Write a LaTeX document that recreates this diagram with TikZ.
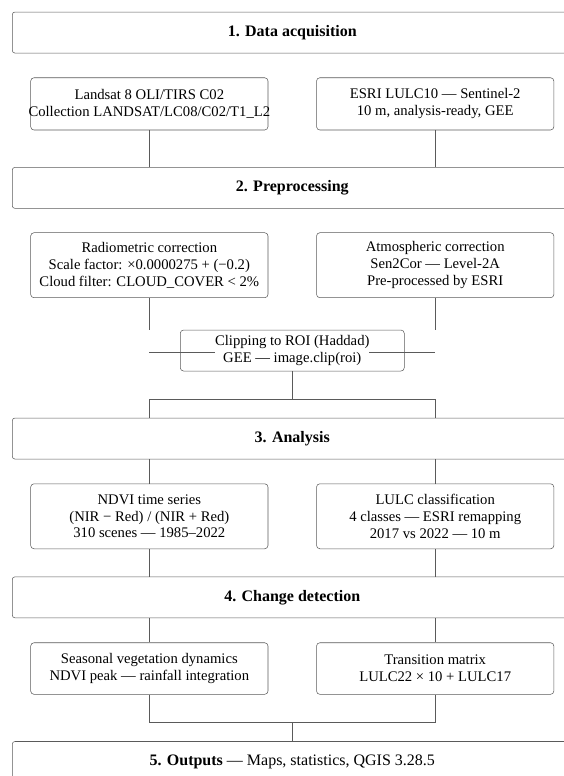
\documentclass[tikz,border=0pt]{standalone}
\usepackage{fontspec}
\setmainfont{Liberation Serif}
\usetikzlibrary{positioning}
\definecolor{edgegray}{RGB}{90,90,90}

\begin{document}
\begin{tikzpicture}[
  x=1pt, y=-1pt,
  stage/.style={draw=edgegray, rounded corners=2pt, minimum width=420pt, minimum height=30.75pt, inner sep=0pt, font=\fontsize{12}{14}\selectfont\bfseries},
  box/.style={draw=edgegray, rounded corners=2.5pt, align=center, minimum width=178pt, inner sep=0pt, font=\fontsize{11}{12.6}\selectfont},
  link/.style={draw=edgegray, line width=0.6pt}
]
  \useasboundingbox (0,0) rectangle (423,582);
  \clip (0,0) rectangle (423,582);

  % stages on the axis
  \node[stage] (acq) at (219.2,24.4) {1. Data acquisition};
  \node[stage] (prep) at (219.2,140.9) {2. Preprocessing};
  \node[stage] (analysis) at (219.2,328.9) {3. Analysis};
  \node[stage] (change) at (219.2,448) {4. Change detection};
  \node[stage] (outputs) at (219.2,571.5) {5. Outputs\textmd{ — Maps, statistics, QGIS 3.28.5}};

  % data sources
  \node[box, minimum height=39.2pt] (landsat) at (112,77.9) {Landsat 8 OLI/TIRS C02\\ \makebox[0pt]{Collection LANDSAT/LC08/C02/T1\_L2}};
  \node[box, minimum height=39.2pt] (esri) at (326.4,77.9) {ESRI LULC10 — Sentinel-2\\ 10 m, analysis-ready, GEE};
  \draw[link] (landsat.south) -- (landsat.south |- prep.north);
  \draw[link] (esri.south) -- (esri.south |- prep.north);

  % preprocessing
  \node[box, minimum height=48.75pt] (radio) at (112,198.9) {Radiometric correction\\ Scale factor: ×0.0000275 + (−0.2)\\ Cloud filter: CLOUD\_COVER < 2\%};
  \node[box, minimum height=48.75pt] (atmo) at (326.4,198.9) {Atmospheric correction\\ Sen2Cor — Level-2A\\ Pre-processed by ESRI};
  \node[box, minimum width=168pt, minimum height=30.75pt] (clip) at (219.2,262.9) {};
  \coordinate (radioend) at (112,247.5);
  \coordinate (atmoend) at (326.4,247.5);
  \coordinate (clipl) at (112,264);
  \coordinate (clipr) at (326.4,264);
  \coordinate (split) at (219.2,299.5);
  \draw[link] (radio.south) -- (radioend);
  \draw[link] (atmo.south) -- (atmoend);
  \draw[link] (clipl) -- (clipr);
  \node[fill=white, inner sep=0pt, align=center, font=\fontsize{11}{12.6}\selectfont] (cliptext) at (clip) {Clipping to ROI (Haddad)\\ GEE — image.clip(roi)};
  \draw[link] (clip.south) -- (split);
  \draw[link] (landsat.south |- analysis.north) |- (split) -| (esri.south |- analysis.north);

  % analysis
  \node[box, minimum height=48.75pt] (ndvi) at (112,387.2) {NDVI time series\\ (NIR − Red) / (NIR + Red)\\ 310 scenes — 1985–2022};
  \node[box, minimum height=48.75pt] (lulc) at (326.4,387.2) {LULC classification\\ 4 classes — ESRI remapping\\ 2017 vs 2022 — 10 m};
  \draw[link] (ndvi.north |- analysis.south) -- (ndvi.north);
  \draw[link] (lulc.north |- analysis.south) -- (lulc.north);
  \draw[link] (ndvi.south) -- (ndvi.south |- change.north);
  \draw[link] (lulc.south) -- (lulc.south |- change.north);

  % change detection
  \node[box, minimum height=38.7pt] (season) at (112,501.4) {Seasonal vegetation dynamics\\ NDVI peak — rainfall integration};
  \node[box, minimum height=38.7pt] (trans) at (326.4,501.4) {Transition matrix\\ LULC22 × 10 + LULC17};
  \coordinate (merge) at (219.2,541.6);
  \draw[link] (season.north |- change.south) -- (season.north);
  \draw[link] (trans.north |- change.south) -- (trans.north);
  \draw[link] (season.south) |- (merge) -| (trans.south);
  \draw[link] (merge) -- (merge |- outputs.north);
\end{tikzpicture}
\end{document}
